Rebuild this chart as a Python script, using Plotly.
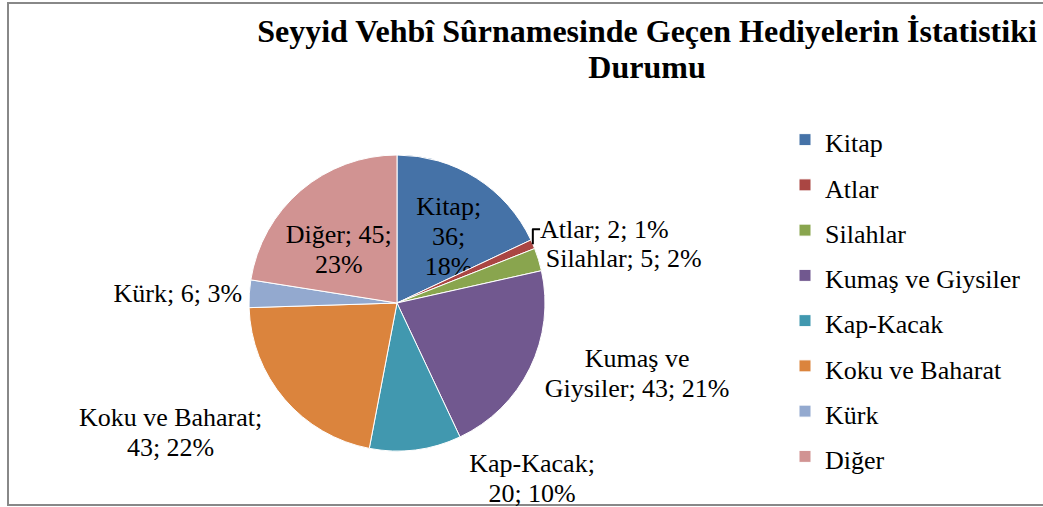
import plotly.graph_objects as go

categories = ["Kitap", "Atlar", "Silahlar", "Kumaş ve Giysiler", "Kap-Kacak",
              "Koku ve Baharat", "Kürk", "Diğer"]
values = [36, 2, 5, 43, 20, 43, 6, 45]
percent_labels = ["18%", "1%", "2%", "21%", "10%", "22%", "3%", "23%"]
colors = ["#4572A7", "#AA4643", "#89A54E", "#71588F", "#4198AF",
          "#DB843D", "#93A9CF", "#D19392"]

NB = "\u00a0"
# label lines (line breaks as in the reference)
slice_lines = [
    [NB, "Kitap;", "36;", "18%"],
    ["Atlar; 2; 1%"],
    ["Silahlar; 5; 2%"],
    ["Kumaş ve", "Giysiler; 43; 21%"],
    [NB * 6 + "Kap-Kacak;", NB * 6 + "20; 10%"],
    [NB, "Koku ve Baharat;", "43; 22%"],
    ["Kürk; 6; 3%"],
    [NB, "Diğer; 45;", "23%"],
]
positions = ["inside", "outside", "outside", "outside", "outside",
             "outside", "outside", "inside"]

W, H = 1043, 507
FONT = "Liberation Serif"


def styled(lines, size=26):
    return "<br>".join(f"<span style='font-size:{size}px'>{ln}</span>" for ln in lines)


slice_texts = [styled(l) for l in slice_lines]

legend_labels = [
    f"<span style='font-family:Liberation Serif;font-size:26px'>{c}</span>"
    for c in categories
]

title_text = ("<span style='font-size:32px'><b>Seyyid Vehbî Sûrnamesinde Geçen "
              "Hediyelerin İstatistiki<br>Durumu</b></span>")

fig = go.Figure(go.Pie(
    labels=legend_labels,
    values=values,
    text=slice_texts,
    textinfo="text",
    hoverinfo="label+value+percent",
    textposition=positions,
    insidetextorientation="horizontal",
    sort=False,
    direction="clockwise",
    rotation=0,
    marker=dict(colors=colors, line=dict(color="white", width=1)),
    textfont=dict(family=FONT, size=23, color="black"),
    insidetextfont=dict(family=FONT, size=23, color="black"),
    outsidetextfont=dict(family=FONT, size=23, color="black"),
    domain=dict(x=[249 / W, 545 / W], y=[(H - 451) / H, (H - 155) / H]),
))

fig.update_layout(
    width=W, height=H, autosize=False,
    margin=dict(l=0, r=0, t=0, b=0, autoexpand=False),
    paper_bgcolor="white",
    plot_bgcolor="white",
    uniformtext=dict(minsize=23, mode="show"),
    title=dict(
        text=title_text,
        font=dict(family=FONT, size=28, color="black"),
        x=647 / W, xanchor="center",
        y=1 - 42 / H, yanchor="top",
    ),
    legend=dict(
        font=dict(family=FONT, size=32.5, color="black"),
        x=785 / W, xanchor="left",
        y=(H - 112) / H, yanchor="top",
        bgcolor="rgba(0,0,0,0)",
    ),
    showlegend=True,
    shapes=[dict(
        type="rect", xref="paper", yref="paper",
        x0=8 / W, x1=1.02, y0=(H - 505) / H, y1=(H - 3) / H,
        line=dict(color="#888888", width=2),
        fillcolor="rgba(0,0,0,0)", layer="below",
    )],
)

fig.write_html(
    "out.html",
    config={"displayModeBar": False, "responsive": False},
    post_script="document.body.style.margin='0';document.body.style.overflow='hidden';",
)
